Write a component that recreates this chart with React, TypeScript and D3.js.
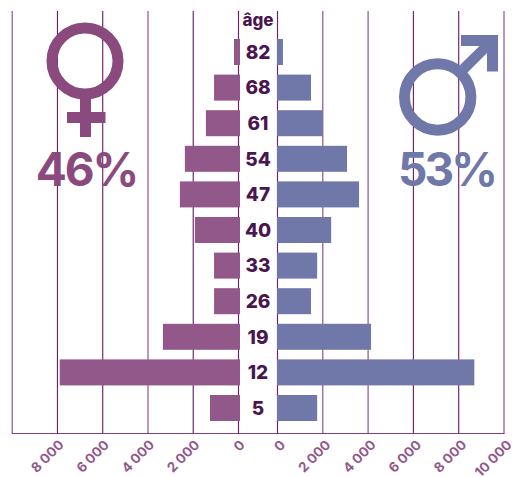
import React from "react";
import * as d3 from "d3";

const ages = ["82", "68", "61", "54", "47", "40", "33", "26", "19", "12", "5"];
const women = [200, 1080, 1440, 2370, 2590, 1925, 1080, 1080, 3340, 7900, 1260];
const men = [240, 1480, 2000, 3070, 3600, 2370, 1750, 1480, 4130, 8690, 1750];
const leftTicks = [0, 2000, 4000, 6000, 8000, 10000];
const rightTicks = [0, 2000, 4000, 6000, 8000, 10000];
const leftLabels = ["0", "2 000", "4 000", "6 000", "8 000", ""];
const rightLabels = ["0", "2 000", "4 000", "6 000", "8 000", "10 000"];

const FONT = "Inter, 'Noto Sans', sans-serif";
const LINE = "#6f1f70";
const W = "#93588a";
const WS = "#8a4a7e";
const M = "#6f78a8";
const TXT = "#4a1650";

export default function App() {
  const xL = d3.scaleLinear().domain([0, 10000]).range([238.5, 12.2]);
  const xR = d3.scaleLinear().domain([0, 10000]).range([277.5, 504]);
  const y = d3.scalePoint<string>().domain(ages).range([52, 408]);
  const h = 26;
  const top = 11;
  const bottom = 433.5;
  return (
    <svg width={512} height={477} style={{ position: "absolute", left: 0, top: 0 }} fontFamily={FONT}>
      {leftTicks.map((t) => (
        <line key={"l" + t} x1={xL(t)} x2={xL(t)} y1={top} y2={bottom} stroke={LINE} strokeWidth={1.15} opacity={t === 4000 || t === 10000 ? 0.8 : 1} />
      ))}
      {rightTicks.map((t) => (
        <line key={"r" + t} x1={xR(t)} x2={xR(t)} y1={top} y2={bottom} stroke={LINE} strokeWidth={1.15} opacity={t === 2000 || t === 4000 || t === 10000 ? 0.8 : 1} />
      ))}
      <line x1={12} x2={504.5} y1={bottom} y2={bottom} stroke={LINE} strokeWidth={1.15} opacity={0.85} />

      {ages.map((a, i) => (
        <g key={a}>
          <rect x={xL(women[i])} y={y(a)! - h / 2} width={240 - xL(women[i])} height={h} fill={W} />
          <rect x={277} y={y(a)! - h / 2} width={xR(men[i]) - 277} height={h} fill={M} />
          <text x={258} y={y(a)! + 6.7} textAnchor="middle" fontSize={19} fontWeight={800} fill={TXT}>{a}</text>
        </g>
      ))}
      <text x={258} y={26} textAnchor="middle" fontSize={17} fontWeight={800} fill={TXT}>âge</text>

      {leftTicks.map((t, i) =>
        leftLabels[i] ? (
          <text key={"lt" + t} transform={`translate(${xL(t) + 0.5},${439}) rotate(-45)`} textAnchor="end" fontSize={13.5} fontWeight={700} fill={W} dy="0.7em">{leftLabels[i]}</text>
        ) : null
      )}
      {rightTicks.map((t, i) => (
        <text key={"rt" + t} transform={`translate(${xR(t) + 2},${439}) rotate(-45)`} textAnchor="end" fontSize={13.5} fontWeight={700} fill={W} dy="0.7em">{rightLabels[i]}</text>
      ))}

      <g>
        <circle cx={85} cy={61} r={33} fill="none" stroke={WS} strokeWidth={11} />
        <path d="M80 98V137H91V98Z" fill={WS} />
        <path d="M67 112H105.5V123H67Z" fill={WS} />
        <text x={86.5} y={186} textAnchor="middle" fontSize={46} fontWeight={700} letterSpacing={-2} fill={WS}>46%</text>
      </g>
      <g>
        <circle cx={437.7} cy={97} r={33.2} fill="none" stroke={M} strokeWidth={11} />
        <path d="M461 35H498V71.5H487V53L467 73L460 65L479.5 46H461Z" fill={M} />
        <text x={446.5} y={186} textAnchor="middle" fontSize={46} fontWeight={700} letterSpacing={-3} fill={M}>53%</text>
      </g>
    </svg>
  );
}
